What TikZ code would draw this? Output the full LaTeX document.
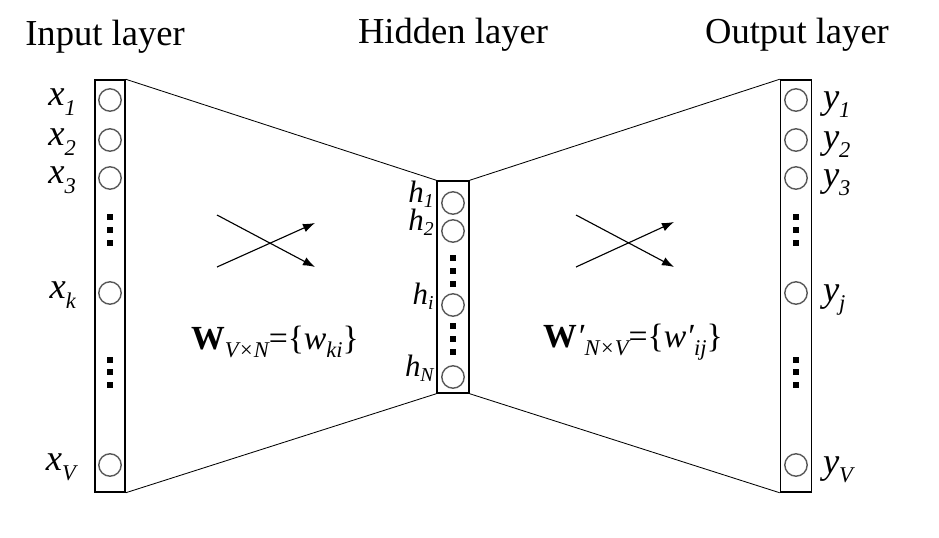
\documentclass[tikz,border=0pt]{standalone}
\usepackage{fontspec}
\setmainfont{Liberation Serif}
\usetikzlibrary{positioning,arrows.meta}

\newcommand{\sub}[1]{\raisebox{-7pt}{\fontsize{16}{16}\selectfont\itshape #1}}
\newcommand{\hsub}[1]{\raisebox{-4pt}{\fontsize{14}{14}\selectfont\itshape #1}}
\newcommand{\wsub}[1]{\raisebox{-6pt}{\fontsize{16}{16}\selectfont\itshape #1}}

\begin{document}
\begin{tikzpicture}[x=0.025cm,y=-0.025cm,
	layer/.style={draw,line width=1pt,inner sep=0pt},
	neuron/.style={circle,draw=black!65,line width=1pt,minimum size=0.56cm,inner sep=0pt},
	sq/.style={fill=black,minimum size=0.15cm,inner sep=0pt},
	lbl/.style={inner sep=0pt,font=\fontsize{26}{30}\selectfont\itshape},
	xlab/.style={lbl,anchor=base east,xshift=-0.55cm,yshift=-0.13cm},
	hlab/.style={lbl,font=\fontsize{22}{24}\selectfont\itshape,anchor=base east,xshift=-0.18cm,yshift=0.02cm},
	ylab/.style={lbl,anchor=base west,xshift=0.37cm,yshift=-0.2cm},
	title/.style={font=\fontsize{26}{30}\selectfont},
	wlbl/.style={font=\fontsize{24}{28}\selectfont},
	link/.style={line width=0.6pt},
	cross/.style={line width=0.8pt,-{Latex[length=0.3cm,width=0.22cm]}}]
	\useasboundingbox (0,0) rectangle (939,538);

	% layer boxes
	\node[layer,minimum width=0.75cm,minimum height=10.3cm] (inbox)  at (110,286) {};
	\node[layer,minimum width=0.8cm,minimum height=5.3cm]   (hidbox) at (453,287) {};
	\node[layer,minimum width=0.78cm,minimum height=10.3cm] (outbox) at (796,286) {};

	\node[title] (tin)  at (105,37) {Input layer};
	\node[title] (thid) at (453,35) {Hidden layer};
	\node[title] (tout) at (797,35) {Output layer};

	% input neurons
	\node[neuron] (x1) at (110,100) {};
	\node[neuron] (x2) at (110,140) {};
	\node[neuron] (x3) at (110,178) {};
	\node[neuron] (xk) at (110,293) {};
	\node[neuron] (xV) at (110,465) {};
	\node[xlab] (lx1) at (x1.west) {x\sub{1}};
	\node[xlab] (lx2) at (x2.west) {x\sub{2}};
	\node[xlab] (lx3) at (x3.west) {x\sub{3}};
	\node[xlab] (lxk) at (xk.west) {x\sub{k}};
	\node[xlab] (lxV) at (xV.west) {x\sub{V}};

	% hidden neurons
	\node[neuron] (h1) at (453,203) {};
	\node[neuron] (h2) at (453,231) {};
	\node[neuron] (hi) at (453,305) {};
	\node[neuron] (hN) at (453,377) {};
	\node[hlab] (lh1) at (h1.west) {h\hsub{1}};
	\node[hlab] (lh2) at (h2.west) {h\hsub{2}};
	\node[hlab] (lhi) at (hi.west) {h\hsub{i}};
	\node[hlab] (lhN) at (hN.west) {h\hsub{N}};

	% output neurons
	\node[neuron] (y1) at (796,100) {};
	\node[neuron] (y2) at (796,140) {};
	\node[neuron] (y3) at (796,178) {};
	\node[neuron] (yj) at (796,293) {};
	\node[neuron] (yV) at (796,465) {};
	\node[ylab] (ly1) at (y1.east) {y\sub{1}};
	\node[ylab] (ly2) at (y2.east) {y\sub{2}};
	\node[ylab] (ly3) at (y3.east) {y\sub{3}};
	\node[ylab] (lyj) at (yj.east) {y\sub{j}};
	\node[ylab] (lyV) at (yV.east) {y\sub{V}};

	% dots
	\foreach \y [count=\n] in {217,230,243,360,372,385} {
		\node[sq] (xd\n) at (110,\y) {};
		\node[sq] (yd\n) at (796,\y) {};
	}
	\foreach \y [count=\n] in {258,271,284,326,339,352}
		\node[sq] (hd\n) at (453,\y) {};

	% links between layers
	\draw[link] (inbox.north east) -- (hidbox.north west);
	\draw[link] (inbox.south east) -- (hidbox.south west);
	\draw[link] (hidbox.north east) -- (outbox.north west);
	\draw[link] (hidbox.south east) -- (outbox.south west);

	% weight arrows
	\coordinate (wa) at (217,215);
	\coordinate (wb) at (217,267);
	\coordinate (wc) at (315,223);
	\coordinate (wd) at (315,267);
	\draw[cross] (wa) -- (wd);
	\draw[cross] (wb) -- (wc);
	\coordinate (va) at (576,215);
	\coordinate (vb) at (576,267);
	\coordinate (vc) at (674,222);
	\coordinate (vd) at (674,267);
	\draw[cross] (va) -- (vd);
	\draw[cross] (vb) -- (vc);

	\node[wlbl] (win)  at (275,342) {\textbf{W}\wsub{V×N}=\{\textit{w}\wsub{ki}\}};
	\node[wlbl] (wout) at (633,342) {\textbf{W}\textit{\char"2032}\wsub{N×V}=\{\textit{w\char"2032}\wsub{ij}\}};
\end{tikzpicture}
\end{document}
